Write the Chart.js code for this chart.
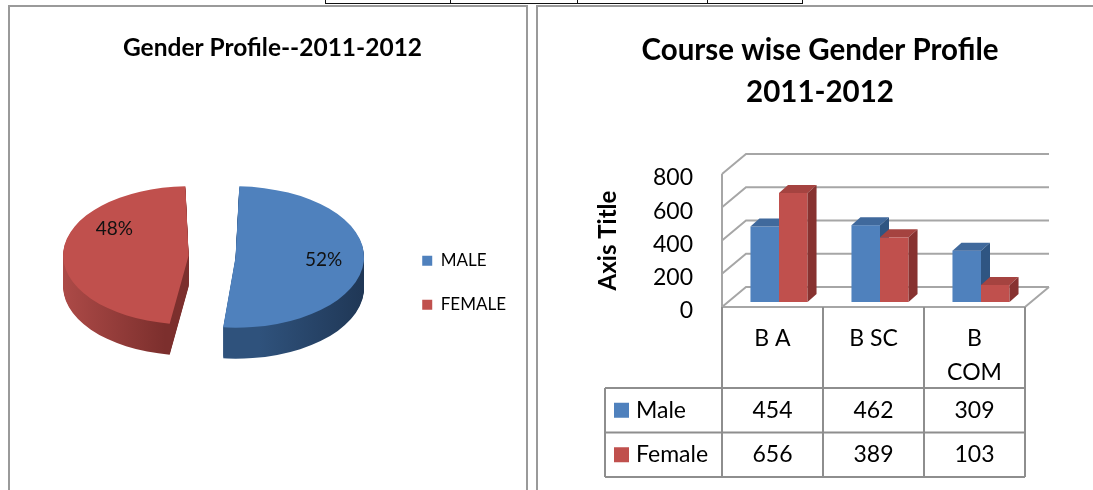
<!DOCTYPE html>
<html>
<head>
<meta charset="utf-8">
<script src="https://cdn.jsdelivr.net/npm/chart.js@4.4.0/dist/chart.umd.min.js"></script>
<style>
  body { margin: 0; width: 1093px; height: 490px; overflow: hidden; background: #fff; position: relative; }
  .top-table { position: absolute; left: 325px; top: -20px; width: 476px; height: 22px; border: 1px solid #111; }
  .top-table span { position: absolute; top: 0; bottom: 0; border-left: 1px solid #111; }
  .panel { position: absolute; top: 5px; height: 600px; border: 2px solid #9a9a9a; }
  #left-panel { left: 8px; width: 516px; }
  #right-panel { left: 536px; width: 700px; }
  canvas { position: absolute; top: 0; }
</style>
</head>
<body>
<div class="top-table"><span style="left:124px"></span><span style="left:251px"></span><span style="left:381px"></span></div>
<div class="panel" id="left-panel"></div>
<div class="panel" id="right-panel"></div>
<canvas id="pie" width="536" height="490" style="left:0"></canvas>
<canvas id="bars" width="562" height="490" style="left:539px"></canvas>
<script>
// data
const genderLabels = ["MALE", "FEMALE"];
const genderShare = [52, 48];
const courses = ["B A", "B SC", "B COM"];
const maleCounts = [454, 462, 309];
const femaleCounts = [656, 389, 103];
const yTicks = [0, 200, 400, 600, 800];

const blue = "#4f81bd";
const red = "#c0504d";

Chart.defaults.font.family = "Lato";
Chart.defaults.color = "#000";

// chart.js moves an exploded arc by offset/4 and grows its radius by about the same
const arcShift = (arc) => arc.options.offset / 4;

//3d look for the pie: squash it and stack the slices downwards for the side
const pie3d = {
  id: "pie3d",
  beforeDatasetsDraw(chart, args, opts) {
    const ctx = chart.ctx;
    const area = chart.chartArea;
    const cy = (area.top + area.bottom) / 2;
    const arcs = chart.getDatasetMeta(0).data;

    const grads = arcs.map((arc, i) => {
      const p = arc.getProps(["x", "startAngle", "endAngle", "outerRadius"], true);
      const bis = (p.startAngle + p.endAngle) / 2;
      const cx = p.x + Math.cos(bis) * arcShift(arc);
      const r = p.outerRadius + arcShift(arc);
      const x0 = Math.cos(bis) > 0 ? cx : cx - r;
      const g = ctx.createLinearGradient(x0, 0, x0 + r, 0);
      g.addColorStop(0, opts.sides[i][0]);
      g.addColorStop(1, opts.sides[i][1]);
      return g;
    });

    for (let d = opts.depth; d > 0; d--) {
      arcs.forEach((arc, i) => {
        ctx.save();
        ctx.translate(0, cy - opts.lift + d);
        ctx.scale(1, opts.tilt);
        ctx.translate(0, -cy);
        const keep = arc.options;
        arc.options = Object.assign({}, keep, { backgroundColor: grads[i] });
        arc.draw(ctx);
        arc.options = keep;
        ctx.restore();
      });
    }

    // top faces are drawn by chart.js inside this transform
    ctx.save();
    ctx.translate(0, cy - opts.lift);
    ctx.scale(1, opts.tilt);
    ctx.translate(0, -cy);
  },
  afterDatasetsDraw(chart, args, opts) {
    const ctx = chart.ctx;
    ctx.restore();

    const area = chart.chartArea;
    const cy = (area.top + area.bottom) / 2;
    const data = chart.data.datasets[0].data;
    const total = data.reduce((a, b) => a + b, 0);
    ctx.save();
    ctx.font = "19px Lato";
    ctx.fillStyle = "#111";
    ctx.textAlign = "center";
    ctx.textBaseline = "middle";
    chart.getDatasetMeta(0).data.forEach((arc, i) => {
      const p = arc.getProps(["x", "y", "startAngle", "endAngle", "outerRadius"], true);
      const bis = (p.startAngle + p.endAngle) / 2;
      const a = bis + opts.labelTurn[i] * Math.PI / 180;
      const r = p.outerRadius * opts.labelAt;
      const lx = p.x + Math.cos(bis) * arcShift(arc) + Math.cos(a) * r;
      const ly = p.y + Math.sin(bis) * arcShift(arc) + Math.sin(a) * r;
      ctx.fillText(Math.round(data[i] / total * 100) + "%", lx, cy - opts.lift + (ly - cy) * opts.tilt);
    });
    ctx.restore();
  },
};

new Chart(document.getElementById("pie"), {
  type: "pie",
  data: {
    labels: genderLabels,
    datasets: [
      {
        data: genderShare,
        backgroundColor: [blue, red],
        borderWidth: 0,
        offset: 94,
        radius: 105,
        clip: false,
      },
    ],
  },
  options: {
    responsive: false,
    animation: false,
    events: [],
    layout: { padding: { left: 29, right: 20, top: 0, bottom: 0 } },
    plugins: {
      title: {
        display: true,
        text: "Gender Profile--2011-2012",
        font: { size: 24.5, weight: "bold", lineHeight: 1.2 },
        color: "#000",
        padding: { top: 33, bottom: 13 },
      },
      legend: {
        position: "right",
        fullSize: false,
        labels: { boxWidth: 10, boxHeight: 10, padding: 27, font: { size: 17 }, color: "#000" },
      },
      tooltip: { enabled: false },
      pie3d: {
        tilt: 0.55,
        depth: 31,
        lift: 26.5,
        labelAt: 0.84,
        labelTurn: [0, 29],
        sides: [["#2f527c", "#1c314d"], ["#b9514e", "#7c2f2d"]],
      },
    },
  },
  plugins: [pie3d],
});

//3d boxes, back walls and the data table under the columns
const bar3d = {
  id: "bar3d",
  beforeDatasetsDraw(chart, args, o) {
    const ctx = chart.ctx;
    const a = chart.chartArea;
    const y = chart.scales.y;
    ctx.save();
    ctx.strokeStyle = o.wallColor;
    ctx.lineWidth = 2;
    ctx.beginPath();
    y.ticks.forEach((t) => {
      const py = y.getPixelForValue(t.value);
      ctx.moveTo(a.left, py);
      ctx.lineTo(a.left + o.depthX, py + o.depthY);
      ctx.lineTo(a.right + o.depthX, py + o.depthY);
    });
    ctx.moveTo(a.left, a.top);
    ctx.lineTo(a.left, a.bottom);
    ctx.lineTo(a.right, a.bottom);
    ctx.lineTo(a.right + o.depthX, a.bottom + o.depthY);
    ctx.stroke();
    ctx.restore();
  },
  beforeDatasetDraw() {
    return false;
  },
  afterDatasetsDraw(chart, args, o) {
    const ctx = chart.ctx;
    const poly = (pts) => {
      ctx.beginPath();
      pts.forEach((p, k) => (k ? ctx.lineTo(p[0], p[1]) : ctx.moveTo(p[0], p[1])));
      ctx.closePath();
      ctx.fill();
    };
    for (let i = 0; i < chart.data.labels.length; i++) {
      chart.data.datasets.forEach((ds, j) => {
        const bar = chart.getDatasetMeta(j).data[i];
        const p = bar.getProps(["x", "y", "base", "width"], true);
        const l = p.x - p.width / 2 + o.shiftX;
        const r = p.x + p.width / 2 + o.shiftX;
        const t = p.y + o.shiftY;
        const b = p.base + o.shiftY;
        ctx.fillStyle = ds.backgroundColor;
        ctx.fillRect(l, t, r - l, b - t);
        ctx.fillStyle = ds.topColor;
        poly([[l, t], [r, t], [r + o.boxX, t + o.boxY], [l + o.boxX, t + o.boxY]]);
        ctx.fillStyle = ds.sideColor;
        poly([[r, t], [r + o.boxX, t + o.boxY], [r + o.boxX, b + o.boxY], [r, b]]);
      });
    }
  },
  afterDraw(chart, args, o) {
    const ctx = chart.ctx;
    const a = chart.chartArea;
    const x = chart.scales.x;
    const n = chart.data.labels.length;
    const w = (a.right - a.left) / n;
    const head = a.bottom + o.headHeight;
    const sets = chart.data.datasets;
    const bottom = head + sets.length * o.rowHeight;
    const keyLeft = a.left - o.keyWidth;

    ctx.save();
    ctx.strokeStyle = o.lineColor;
    ctx.lineWidth = 2;
    ctx.beginPath();
    for (let k = 0; k <= n; k++) {
      ctx.moveTo(a.left + k * w, a.bottom);
      ctx.lineTo(a.left + k * w, bottom);
    }
    ctx.moveTo(keyLeft, head);
    ctx.lineTo(keyLeft, bottom);
    for (let k = 0; k <= sets.length; k++) {
      ctx.moveTo(keyLeft, head + k * o.rowHeight);
      ctx.lineTo(a.right, head + k * o.rowHeight);
    }
    ctx.stroke();

    ctx.font = "23px Lato";
    ctx.textBaseline = "middle";
    sets.forEach((ds, j) => {
      const cy = head + (j + 0.5) * o.rowHeight;
      ctx.fillStyle = ds.backgroundColor;
      ctx.fillRect(keyLeft + 9, cy - 7.5, 15, 15);
      ctx.fillStyle = "#000";
      ctx.textAlign = "left";
      ctx.fillText(ds.label, keyLeft + 31, cy);
      ctx.textAlign = "center";
      ds.data.forEach((v, i) => ctx.fillText(v, x.getPixelForValue(i), cy));
    });
    ctx.restore();
  },
};

new Chart(document.getElementById("bars"), {
  type: "bar",
  data: {
    labels: courses,
    datasets: [
      { label: "Male", data: maleCounts, backgroundColor: blue, topColor: "#40699c", sideColor: "#2f5582" },
      { label: "Female", data: femaleCounts, backgroundColor: red, topColor: "#a54340", sideColor: "#873230" },
    ],
  },
  options: {
    responsive: false,
    animation: false,
    events: [],
    categoryPercentage: 0.565,
    barPercentage: 1,
    // same padding both sides so the title is centred on the panel
    layout: { padding: { left: 76, right: 76, top: 0, bottom: 0 } },
    scales: {
      x: {
        grid: { display: false, drawTicks: false },
        border: { display: false },
        ticks: {
          padding: 14,
          font: { size: 23, lineHeight: 1.5 },
          color: "#000",
          callback: (v, i) => (courses[i].length > 4 ? courses[i].split(" ") : courses[i]),
        },
        afterFit: (s) => {
          s.height = 183;
        },
      },
      y: {
        min: yTicks[0],
        max: yTicks[yTicks.length - 1],
        ticks: { stepSize: yTicks[1] - yTicks[0], padding: 29, labelOffset: 4, font: { size: 23 }, color: "#000" },
        grid: { display: false, drawTicks: false },
        border: { display: false },
        title: {
          display: true,
          text: "Axis Title",
          font: { size: 24, weight: "bold", lineHeight: 1.2 },
          color: "#000",
          padding: { top: -21, bottom: 0 },
        },
        afterFit: (s) => {
          s.width = 107;
        },
      },
    },
    plugins: {
      legend: { display: false },
      tooltip: { enabled: false },
      title: {
        display: true,
        text: ["Course wise Gender Profile", "2011-2012"],
        font: { size: 29.5, weight: "bold", lineHeight: 1.424 },
        color: "#000",
        padding: { top: 29, bottom: 61 },
      },
      bar3d: {
        wallColor: "#a6a6a6",
        lineColor: "#8e8e8e",
        depthX: 24,
        depthY: -20,
        shiftX: 6.5,
        shiftY: -5,
        boxX: 9,
        boxY: -8,
        headHeight: 81,
        rowHeight: 44.5,
        keyWidth: 117,
      },
    },
  },
  plugins: [bar3d],
});
</script>
</body>
</html>
